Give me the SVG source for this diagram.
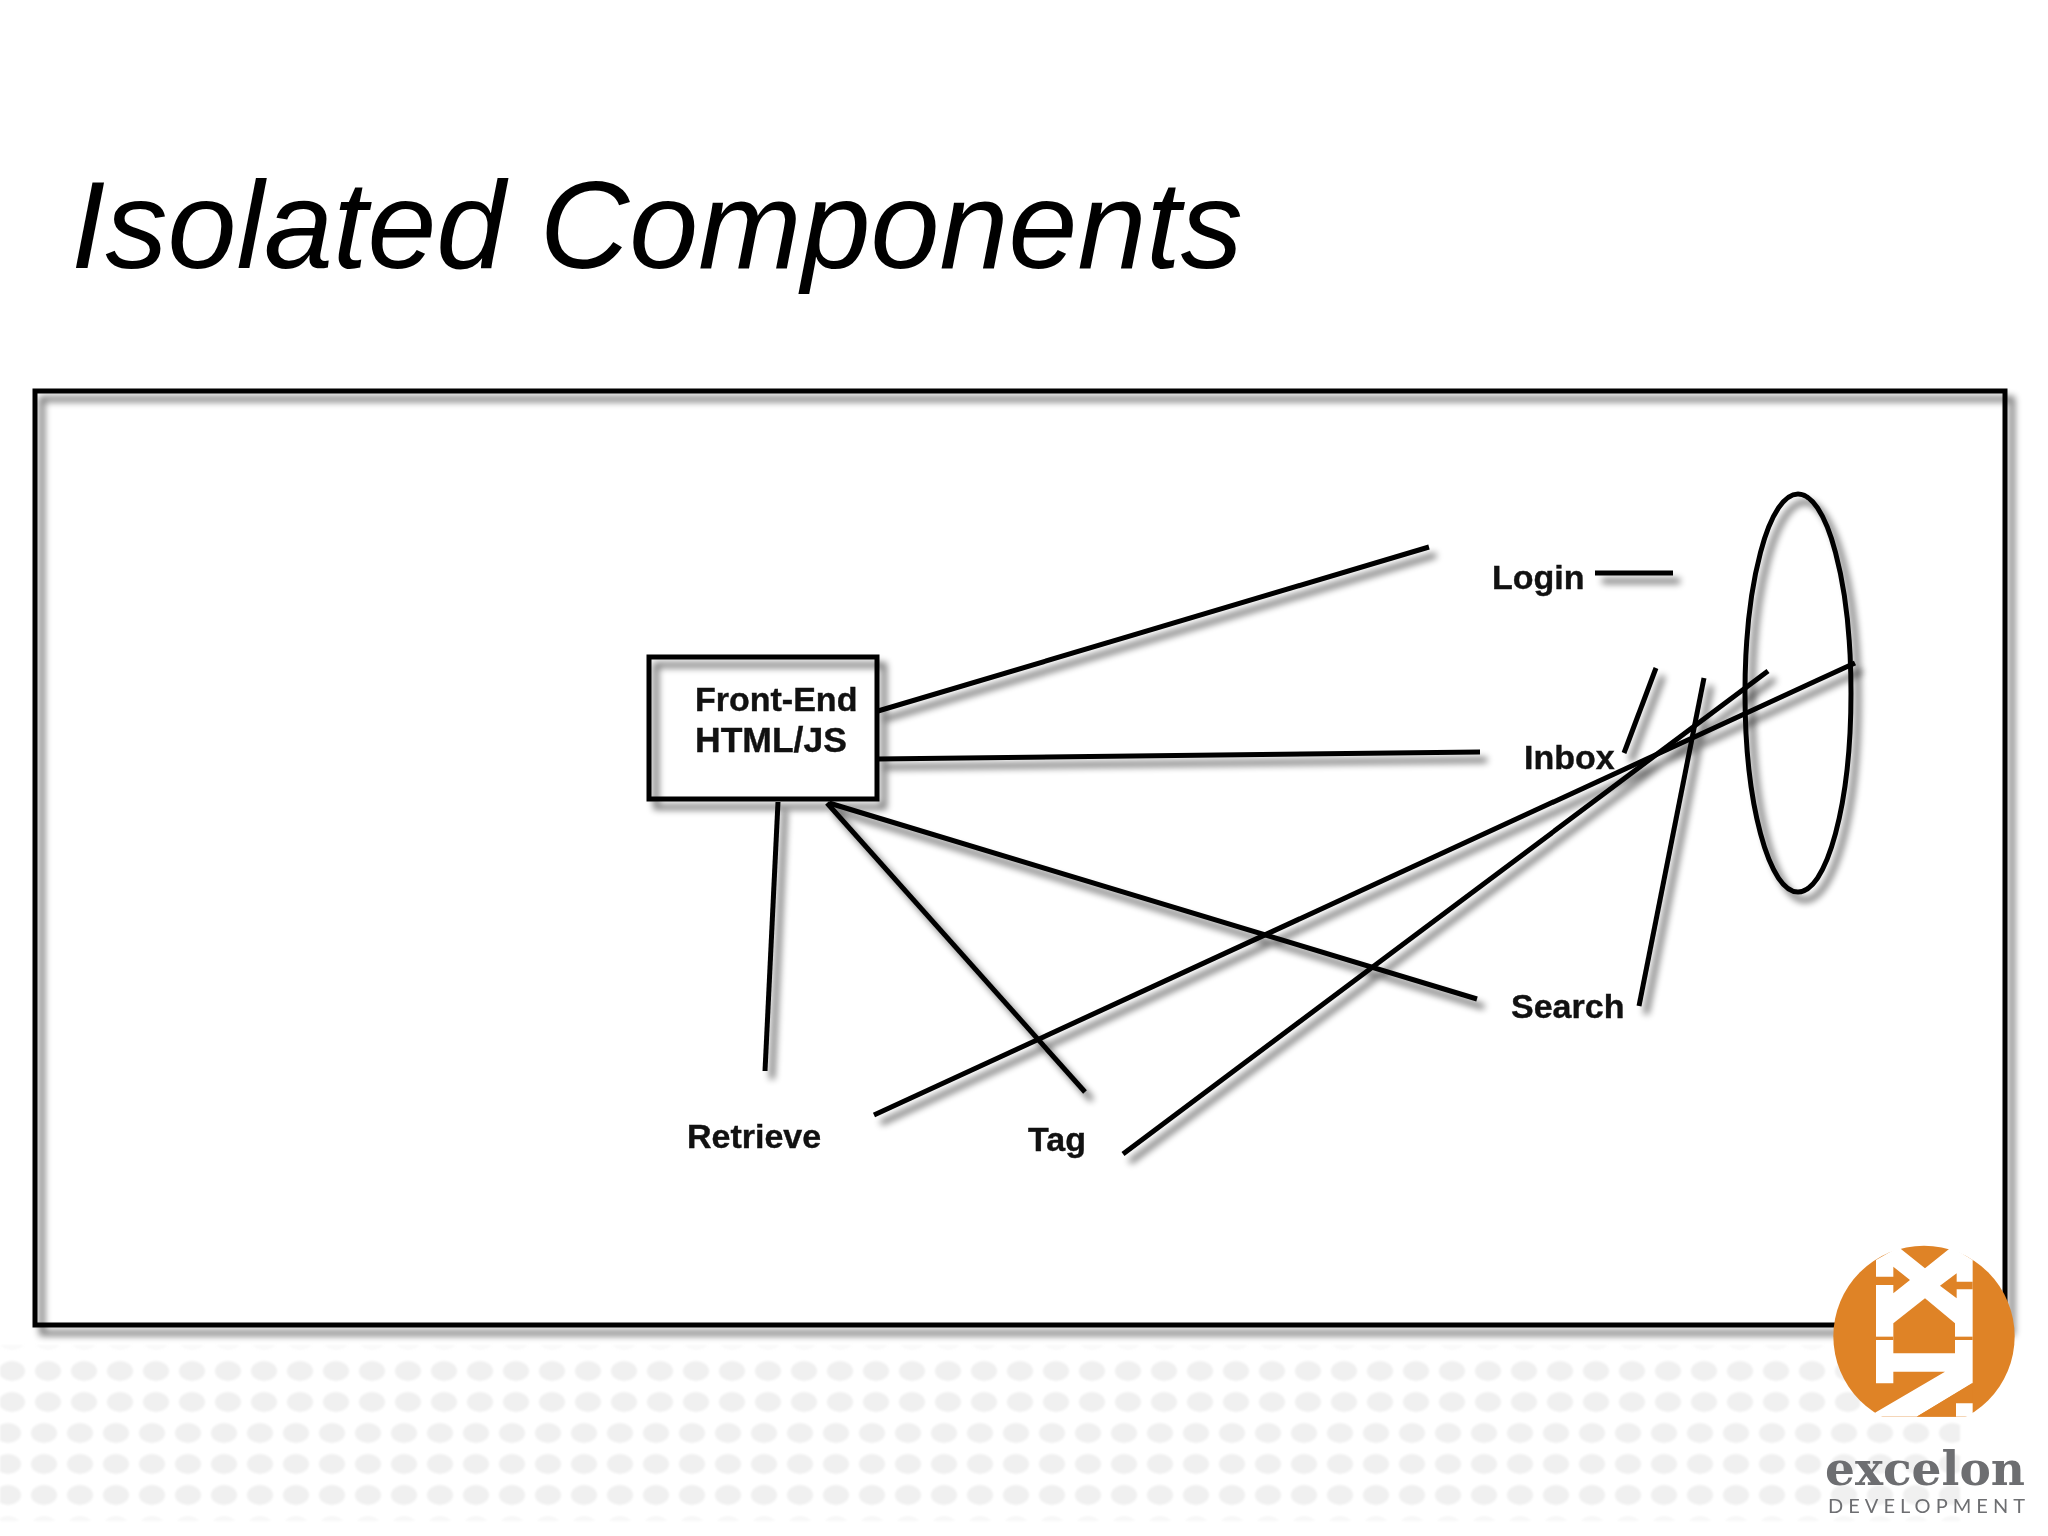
<svg xmlns="http://www.w3.org/2000/svg" width="2048" height="1536" viewBox="0 0 2048 1536">
<style>
.ln{fill:none;stroke:#000;stroke-width:5;stroke-linecap:butt}
.lb{font-family:"Liberation Sans",Arial,sans-serif;font-weight:700;font-size:34px;fill:#111;stroke:#111;stroke-width:.4}
.o{fill:#df8326}.w{fill:#fff}
</style>
<defs>
<filter id="sh" x="0" y="0" width="2048" height="1536" filterUnits="userSpaceOnUse" primitiveUnits="userSpaceOnUse">
<feGaussianBlur in="SourceAlpha" stdDeviation="3.5"/><feOffset dx="7" dy="8"/>
<feComponentTransfer><feFuncA type="linear" slope="0.6"/></feComponentTransfer>
<feMerge><feMergeNode/><feMergeNode in="SourceGraphic"/></feMerge>
</filter>
<filter id="b"><feGaussianBlur stdDeviation="1"/></filter>
<pattern id="d1" width="36" height="31" patternUnits="userSpaceOnUse" x="-6" y="1356"><ellipse cx="18" cy="15" rx="13" ry="10" fill="#f0f0f0"/></pattern>
<pattern id="d2" width="36" height="31" patternUnits="userSpaceOnUse" x="-10" y="1418"><ellipse cx="18" cy="15" rx="13" ry="10" fill="#f0f0f0"/></pattern>
<clipPath id="lc"><path d="M0 0H803V590H0Z"/></clipPath>
<clipPath id="cc"><circle cx="432" cy="349" r="272"/></clipPath>
</defs>
<rect width="2048" height="1536" fill="#fff"/>
<g id="dots" filter="url(#b)">
<rect x="0" y="1345" width="1830" height="5" fill="url(#d1)" opacity=".4"/>
<rect x="0" y="1356" width="1860" height="62" fill="url(#d1)"/>
<rect x="0" y="1418" width="1960" height="93" fill="url(#d2)"/>
<rect x="0" y="1511" width="1960" height="10" fill="url(#d2)" opacity=".5"/>
</g>
<text id="title" x="71" y="268" font-family="'Liberation Sans',Arial,sans-serif" font-style="italic" font-size="124" fill="#000">Isolated Components</text>
<g id="frame" filter="url(#sh)"><rect class="ln" x="35" y="391" width="1970" height="934"/></g>
<g id="connectors" filter="url(#sh)">
<path class="ln" d="M878 711L1429 547"/>
<path class="ln" d="M878 759L1480 752"/>
<path class="ln" d="M829 803L1477 999"/>
<path class="ln" d="M827 803L1085 1092"/>
<path class="ln" d="M778 802L765 1071"/>
<path class="ln" d="M1595 573H1673"/>
<path class="ln" d="M1656 668L1624 753"/>
<path class="ln" d="M1704 678L1639 1006"/>
<path class="ln" d="M874 1115L1855 663"/>
<path class="ln" d="M1123 1154L1768 671"/>
</g>
<g id="oval" filter="url(#sh)"><ellipse class="ln" cx="1798" cy="693" rx="53" ry="199"/></g>
<g id="frontend">
<rect class="ln" filter="url(#sh)" x="649" y="657" width="228" height="142"/>
<text class="lb" x="695" y="711">Front-End</text>
<text class="lb" x="695" y="752" style="font-size:35.5px">HTML/JS</text>
</g>
<g id="login"><text class="lb" x="1492" y="589">Login</text></g>
<g id="inbox"><text class="lb" x="1524" y="769">Inbox</text></g>
<g id="search"><text class="lb" x="1511" y="1018">Search</text></g>
<g id="retrieve"><text class="lb" x="687" y="1148">Retrieve</text></g>
<g id="tag"><text class="lb" x="1028" y="1151">Tag</text></g>
<g id="logo" transform="translate(1780 1220) scale(.33333)">
<g clip-path="url(#lc)">
<g clip-path="url(#cc)">
<rect class="o" x="150" y="70" width="570" height="560"/>
</g>
<path class="w" d="M288 120L350 85H360L435 145L510 85H520L578 120V490L410 590H285L288 490V120Z"/>
<path class="o" d="M288 170H340V140L390 180L340 220V195H288Z"/>
<path class="o" d="M578 185H530V160L480 197L530 235V208H578Z"/>
<path class="o" d="M340 310L435 235L525 310V400H340Z"/>
<rect class="o" x="288" y="350" width="52" height="10"/>
<rect class="o" x="525" y="350" width="53" height="10"/>
<path class="o" d="M340 490V455H495L285 578V490Z"/>
<path class="o" d="M578 488L410 590H528V550H578Z"/>
<path class="w" d="M528 550H578V590H528Z"/>
</g>
</g>
<g id="brand" fill="#6d6e71">
<text x="1825" y="1485" font-family="'DejaVu Serif',serif" font-weight="700" font-size="47" textLength="200" lengthAdjust="spacingAndGlyphs">excelon</text>
<text x="1828" y="1513" font-family="Lato,'Liberation Sans',sans-serif" font-size="20" textLength="197">DEVELOPMENT</text>
</g>
</svg>
